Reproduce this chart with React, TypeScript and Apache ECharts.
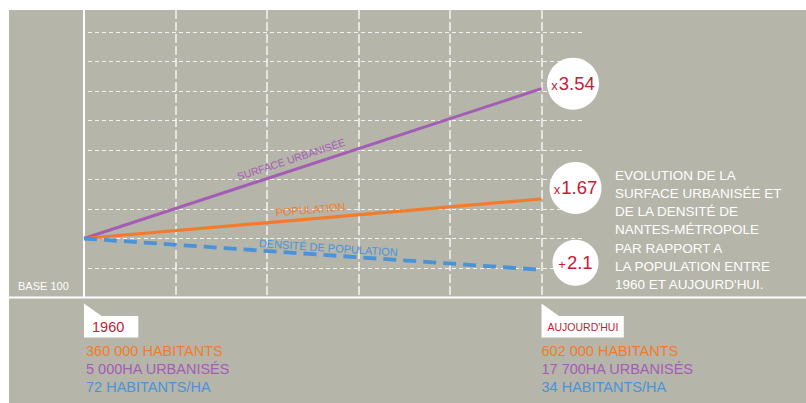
import React, { useEffect, useRef } from 'react';
import * as echarts from 'echarts';

// ---- data ----
const periods = ['1960', "AUJOURD'HUI"];
const periodX = [0, 5];
const surfaceIndex = [100, 354];
const populationIndex = [100, 167];
const densityIndex = [100, 47];
const seriesNames = ['SURFACE URBANISÉE', 'POPULATION', 'DENSITÉ DE POPULATION'];
const ratioSigns = ['x', 'x', '+'];
const ratioValues = ['3.54', '1.67', '2.1'];
const populationLabels = ['360 000 HABITANTS', '602 000 HABITANTS'];
const surfaceLabels = ['5 000HA URBANISÉS', '17 700HA URBANISÉS'];
const densityLabels = ['72 HABITANTS/HA', '34 HABITANTS/HA'];
const baseLabel = 'BASE 100';
const caption = [
  'EVOLUTION DE LA',
  'SURFACE URBANISÉE ET',
  'DE LA DENSITÉ DE',
  'NANTES-MÉTROPOLE',
  'PAR RAPPORT A',
  'LA POPULATION ENTRE',
  "1960 ET AUJOURD'HUI.",
];

const BG = '#b5b5a9';
const PURPLE = '#a45db5';
const ORANGE = '#f27c2b';
const BLUE = '#4a93d8';
const RED = '#c51b35';
const FAMILY = '"Liberation Sans", Arial, sans-serif';

function txt(text: string, x: number, y: number, size: number, fill: string, align = 'left', valign = 'middle', extra: any = {}) {
  return {
    type: 'text',
    x,
    y,
    ...extra,
    style: {
      text,
      x: 0,
      y: 0,
      fill,
      font: `${size}px ${FAMILY}`,
      align,
      verticalAlign: valign,
      textAlign: align,
      textVerticalAlign: valign,
    },
  };
}

export default function App() {
  const ref = useRef<HTMLDivElement>(null);
  useEffect(() => {
    const el = ref.current!;
    const chart = echarts.init(el, null, { renderer: 'svg' });
    const lines = [
      { name: seriesNames[0], values: surfaceIndex, color: PURPLE, width: 3, type: 'solid' as any, t: 0.46, gap: 5, size: 10.5, r: 26, off: [31.5, -5] },
      { name: seriesNames[1], values: populationIndex, color: ORANGE, width: 3.2, type: 'solid' as any, t: 0.497, gap: 4, size: 11, r: 26, off: [34, -11] },
      { name: seriesNames[2], values: densityIndex, color: BLUE, width: 3.8, type: [13, 7] as any, t: 0.533, gap: 2, size: 11, r: 23, off: [34, -7] },
    ];
    chart.setOption({
      animation: false,
      backgroundColor: BG,
      grid: [
        { left: 88, right: 222, top: 10, bottom: 105.5 },
        { left: 84, right: 264.5, top: 10, bottom: 105.5 },
      ],
      xAxis: [
        { gridIndex: 0, type: 'value', min: 0, max: 1, show: false },
        {
          gridIndex: 1, type: 'value', min: 0, max: 5, interval: 1,
          axisLine: { show: false }, axisTick: { show: false }, axisLabel: { show: false },
          splitLine: { show: true, showMinLine: false, lineStyle: { color: 'rgba(255,255,255,0.85)', width: 1.5, type: [9, 3] } },
        },
      ],
      yAxis: [
        {
          gridIndex: 0, type: 'value', min: 0, max: 487.3, interval: 50,
          axisLine: { show: false }, axisTick: { show: false }, axisLabel: { show: false },
          splitLine: { show: true, showMinLine: false, showMaxLine: false, lineStyle: { color: 'rgba(255,255,255,0.85)', width: 1, type: [4, 3] } },
        },
        {
          gridIndex: 1, type: 'value', min: 0, max: 487.3, interval: 50,
          axisLine: { show: true, lineStyle: { color: '#ffffff', width: 2 } },
          axisTick: { show: false }, axisLabel: { show: false }, splitLine: { show: false },
        },
      ],
      series: lines.map((l) => ({
        type: 'line',
        name: l.name,
        xAxisIndex: 1,
        yAxisIndex: 1,
        symbol: 'none',
        data: periodX.map((x, i) => [x, l.values[i]]),
        lineStyle: { color: l.color, width: l.width, type: l.type },
      })),
    });

    const P = (x: number, y: number) => chart.convertToPixel({ gridIndex: 1 }, [x, y]) as number[];
    const base0 = P(0, 0);
    const g: any[] = [];
    g.push({ type: 'rect', shape: { x: 0, y: 0, width: 806, height: 10 }, style: { fill: '#ffffff' } });
    g.push({ type: 'rect', shape: { x: 0, y: 0, width: 9, height: 403 }, style: { fill: '#ffffff' } });
    g.push({ type: 'line', shape: { x1: 9, y1: base0[1], x2: 806, y2: base0[1] }, style: { stroke: '#ffffff', lineWidth: 2 } });
    g.push(txt(baseLabel, 18, base0[1] - 12, 11, '#ffffff'));

    lines.forEach((l, k) => {
      const p0 = P(periodX[0], l.values[0]);
      const p1 = P(periodX[1], l.values[1]);
      const a = Math.atan2(p0[1] - p1[1], p1[0] - p0[0]);
      const px = p0[0] + l.t * (p1[0] - p0[0]);
      const py = p0[1] + l.t * (p1[1] - p0[1]);
      const ox = px - l.gap * Math.sin(a);
      const oy = py - l.gap * Math.cos(a);
      g.push(txt(l.name, ox, oy, l.size, l.color, 'center', 'bottom', { rotation: a }));
      // ratio circle
      const cx = p1[0] + l.off[0];
      const cy = p1[1] + l.off[1];
      g.push({ type: 'circle', shape: { cx, cy, r: l.r }, style: { fill: '#ffffff' } });
      g.push({
        type: 'text',
        x: cx,
        y: cy,
        style: {
          text: `{s|${ratioSigns[k]}}{n|${ratioValues[k]}}`,
          align: 'center', verticalAlign: 'middle', textAlign: 'center', textVerticalAlign: 'middle',
          rich: {
            s: { fill: RED, font: `13px ${FAMILY}`, fontSize: 13, fontFamily: FAMILY, padding: [3, 1, 0, 0] },
            n: { fill: RED, font: `18.5px ${FAMILY}`, fontSize: 18.5, fontFamily: FAMILY },
          },
        },
      });
    });

    // period flags and figures
    const flagW = [54.3, 82.3];
    const flagSize = [14.5, 10.5];
    periods.forEach((p, i) => {
      const x = P(periodX[i], 0)[0];
      const by = base0[1];
      const w = flagW[i];
      g.push({
        type: 'polygon',
        shape: { points: [[x, by + 6], [x + 17.5, by + 18.5], [x + w, by + 18.5], [x + w, by + 40], [x, by + 40]] },
        style: { fill: '#ffffff' },
      });
      g.push(txt(p, x + (i === 0 ? 8 : 6), by + 29.3, flagSize[i], RED));
      const tx = x + (i === 0 ? 2 : 0);
      g.push(txt(populationLabels[i], tx, by + 53, 14.5, ORANGE));
      g.push(txt(surfaceLabels[i], tx, by + 71, 14.5, PURPLE));
      g.push(txt(densityLabels[i], tx, by + 89.3, 14.5, BLUE));
    });

    caption.forEach((c, i) => {
      g.push(txt(c, 615, 175 + i * 18.3, 13.5, '#ffffff'));
    });

    chart.setOption({ graphic: g });
    return () => chart.dispose();
  }, []);
  return <div ref={ref} style={{ position: 'absolute', left: 0, top: 0, width: 806, height: 403 }} />;
}
